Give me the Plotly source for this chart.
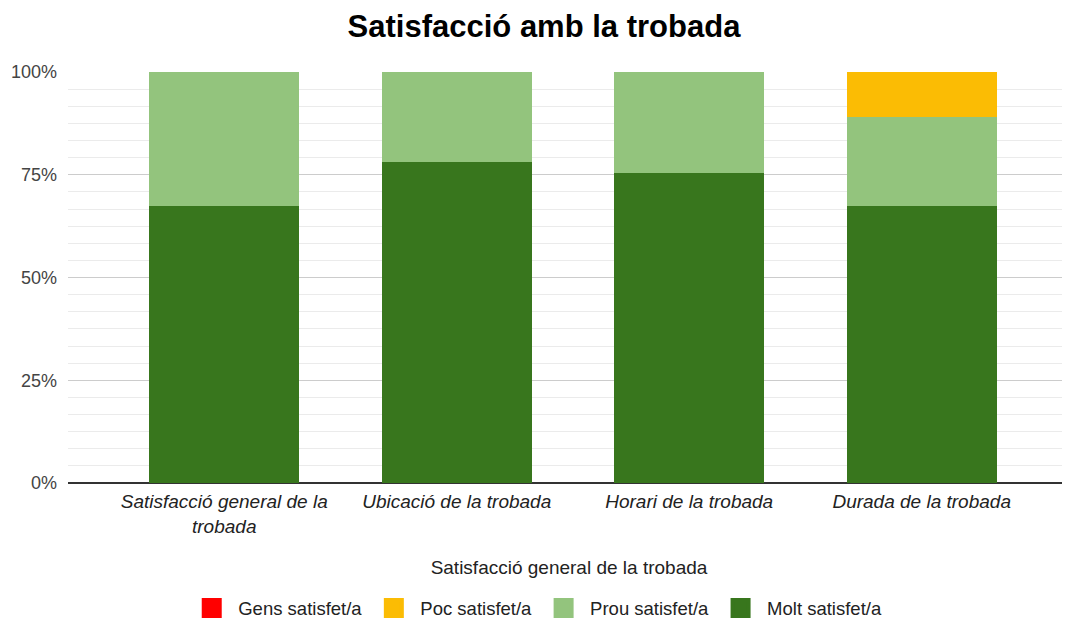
import plotly.graph_objects as go

categories = ["Satisfacció general de la<br>trobada", "Ubicació de la trobada",
              "Horari de la trobada", "Durada de la trobada"]
series_names = ["Gens satisfet/a", "Poc satisfet/a", "Prou satisfet/a", "Molt satisfet/a"]
molt = [67.4, 78.2, 75.5, 67.4]
prou = [32.6, 21.8, 24.5, 21.6]
poc = [0, 0, 0, 11.0]
gens = [0, 0, 0, 0]
colors = ["#ff0000", "#fbbc04", "#93c47d", "#38761d"]
y_ticks = [0, 25, 50, 75, 100]
y_tick_labels = ["0%", "25%", "50%", "75%", "100%"]

x = list(range(len(categories)))
fig = go.Figure()
# stack order bottom->top: Molt, Prou, Poc, Gens
stack = [(molt, colors[3]), (prou, colors[2]), (poc, colors[1]), (gens, colors[0])]
for vals, col in stack:
    fig.add_trace(go.Bar(x=x, y=vals, marker=dict(color=col, line=dict(width=0)),
                         width=0.646, showlegend=False))
# legend entries (square swatches)
for name, col in zip(series_names, colors):
    fig.add_trace(go.Scatter(x=[None], y=[None], mode="markers", name=name,
                             marker=dict(symbol="square", size=16, color=col,
                                         line=dict(color=col, width=4))))

fig.update_layout(
    barmode="stack",
    width=1062, height=621,
    paper_bgcolor="white", plot_bgcolor="white",
    margin=dict(l=60, r=0, t=64, b=146),
    font=dict(family="Liberation Sans, Arial, sans-serif", color="#222222"),
    title=dict(text="<b>Satisfacció amb la trobada</b>", x=0.5047, xanchor="center",
               y=1 - 18.5 / 621, yanchor="middle", font=dict(size=31, color="#000000")),
    showlegend=True,
    legend=dict(orientation="h", x=0.117, xanchor="left", y=-0.305, yanchor="middle",
                traceorder="normal", font=dict(size=18.5, color="#222222"),
                itemwidth=43),
)
fig.update_xaxes(range=[-0.672, 3.638], tickvals=x, ticktext=["<i>%s</i>" % c for c in categories],
                 tickfont=dict(size=19, color="#222222"), showgrid=False, ticks="",
                 showline=False, zeroline=False, automargin=False, ticklabelstandoff=5,
                 title=dict(text="Satisfacció general de la trobada", font=dict(size=19, color="#222222"),
                            standoff=24))
fig.update_yaxes(range=[0, 100], tickvals=y_ticks, ticktext=y_tick_labels,
                 tickfont=dict(size=18, color="#444444"), showgrid=True, gridcolor="#cccccc",
                 gridwidth=1, zeroline=True, zerolinecolor="#333333", zerolinewidth=1.5,
                 ticks="", ticklabelstandoff=10, automargin=False,
                 minor=dict(dtick=25/6, showgrid=True, gridcolor="#ebebeb", gridwidth=1))
fig.write_html("out.html")
